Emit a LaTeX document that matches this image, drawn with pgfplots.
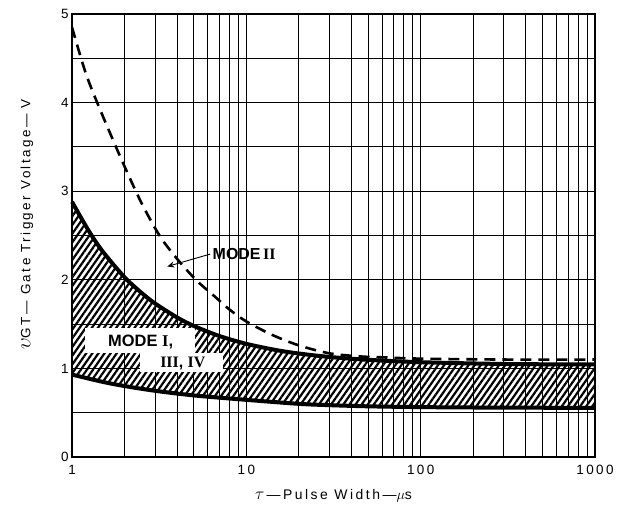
\documentclass[border=0pt]{standalone}
\usepackage{fontspec}
\setmainfont{Liberation Sans}[LetterSpace=18]
\newfontfamily\plain{Liberation Sans}
\newfontfamily\rmn{Liberation Serif}
\usepackage{pgfplots}
\usepackage{pgfplotstable}
\pgfplotsset{compat=1.18}
\usepgfplotslibrary{fillbetween}
\usetikzlibrary{patterns.meta,arrows.meta}

\pgfplotstableread{
x y
1 2.88
1.25 2.55
1.5 2.32
2 2.03
2.5 1.854
3 1.732
4 1.576
5 1.479
7 1.366
10 1.277
15 1.205
20 1.168
30 1.129
50 1.097
100 1.07
300 1.05
1000 1.044
}\tabU

\pgfplotstableread{
x y
1 0.93
1.5 0.848
2 0.801
3 0.747
5 0.695
10 0.645
20 0.60
30 0.585
50 0.572
100 0.563
300 0.557
1000 0.555
}\tabL

\pgfplotstableread{
x y
1 4.85
1.2 4.33
1.45 3.92
1.93 3.35
2.5 2.87
3.2 2.49
4.07 2.22
5.2 1.99
6.6 1.81
8 1.665
10 1.53
14 1.38
20 1.26
30 1.17
45 1.135
60 1.125
100 1.11
300 1.10
1000 1.10
}\tabD

\begin{document}
\begin{tikzpicture}
\begin{axis}[
 xmode=log, xmin=1, xmax=1000, ymin=0, ymax=5,
 scale only axis, width=523bp, height=443bp,
 xtick={1,10,100,1000}, xticklabels={1,10,100,1000},
 minor xtick={2,3,4,5,6,7,8,9,20,30,40,50,60,70,80,90,200,300,400,500,600,700,800,900},
 ytick={0,1,2,3,4,5}, minor ytick={0.5,1.5,2.5,3.5,4.5},
 grid=both,
 major grid style={black, line width=0.8bp},
 minor grid style={black, line width=0.8bp},
 major tick length=0pt, minor tick length=0pt,
 axis line style={black, line width=1.2bp},
 tick label style={font=\fontsize{13.5}{15}\selectfont},
 xticklabel style={yshift=-5bp},
 /pgf/number format/assume math mode=true,
 xlabel={{\fontsize{19}{19}\selectfont$\tau$}\,—Pulse Width—{\fontsize{15}{15}\selectfont$\mu$}s},
 ylabel={{\fontsize{20}{20}\selectfont$\upsilon$}GT— Gate Trigger Voltage— V},
 xlabel style={at={(rel axis cs:0.5,0)}, anchor=center, yshift=-39bp, font=\fontsize{14}{16}\selectfont},
 ylabel style={at={(rel axis cs:0,0.525)}, anchor=center, yshift=45bp, font=\fontsize{13.5}{16}\selectfont},
 clip=false,
]
\coordinate (BL) at (rel axis cs:0,0);
\coordinate (TR) at (rel axis cs:1,1);
\addplot[name path=U, draw=none, smooth] table {\tabU};
\addplot[name path=L, draw=none, smooth] table {\tabL};
\addplot[pattern={Lines[angle=55,distance=5bp,line width=2.2bp]}, draw=none] fill between[of=U and L];
\fill[white] (axis cs:1.19,1.17) rectangle (axis cs:5.1,1.456);
\fill[white] (axis cs:2.46,0.96) rectangle (axis cs:7.37,1.171);
\addplot[black, line width=4bp, smooth] table {\tabU};
\addplot[black, line width=4bp, smooth] table {\tabL};
\addplot[black, line width=2.6bp, dash pattern=on 11bp off 7bp, smooth] table {\tabD};
\node[anchor=west, inner sep=0pt, font=\fontsize{16.5}{18}\plain\bfseries] at (axis cs:1.61,1.30) {MODE {\rmn I},};
\node[anchor=west, inner sep=0pt, font=\fontsize{16}{18}\plain\bfseries] at (axis cs:3.2,1.06) {{\rmn III}, {\rmn IV}};
\node[anchor=west, inner sep=0pt, font=\fontsize{16}{18}\plain\bfseries] at (axis cs:6.4,2.29) {MODE{\rmn\,II}};
\draw[black, line width=0.9bp, -{Stealth[length=7bp,width=6bp]}] (axis cs:6.2,2.29) -- (axis cs:3.52,2.15);
\end{axis}
\pgfresetboundingbox
\path ([shift={(-72bp,-63bp)}]BL) rectangle ([shift={(39bp,14bp)}]TR);
\end{tikzpicture}
\end{document}
